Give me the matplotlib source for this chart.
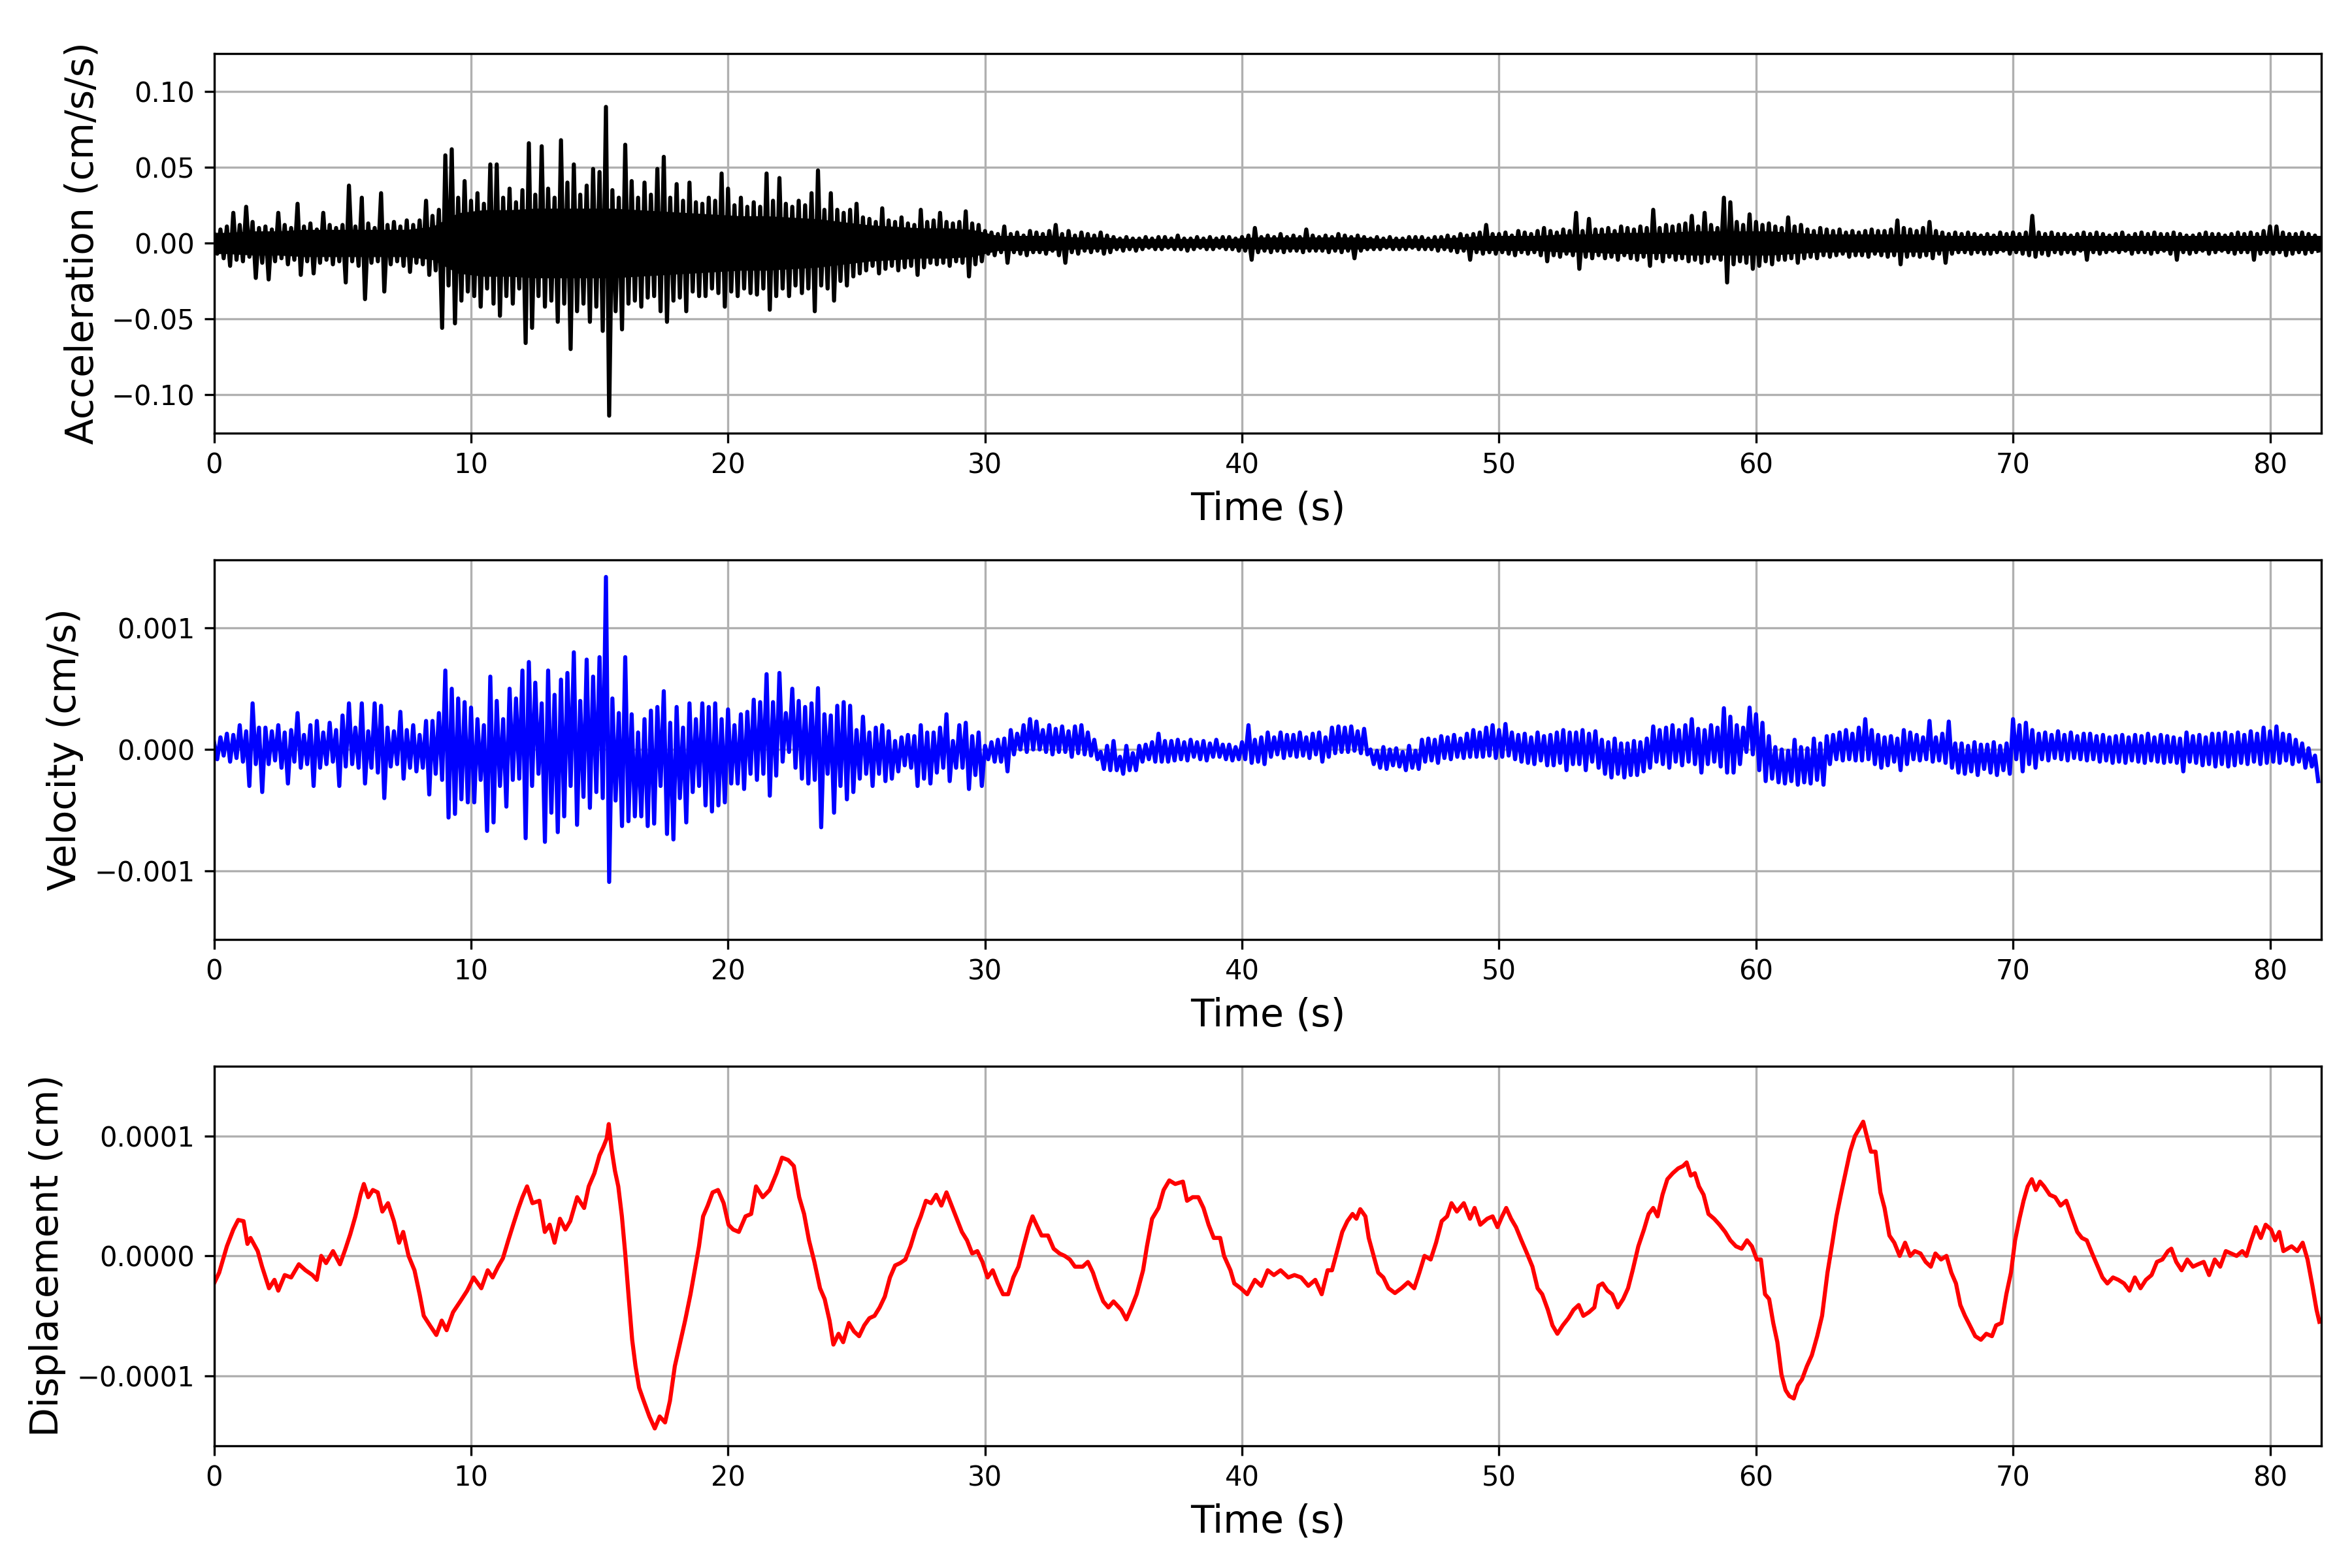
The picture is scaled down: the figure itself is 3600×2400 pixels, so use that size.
import numpy as np
import matplotlib
matplotlib.use("Agg")
import matplotlib.pyplot as plt

# ---------------- data ----------------
DT = 0.25          # spacing of the extremum pairs (s)
T_END = 82.0       # record length (s)

# acceleration: local maxima / minima per 0.25 s step, in 1e-3 cm/s/s
acc_hi_e3 = [
    6, 9, 11, 20,  12, 24, 14, 10,  11, 9, 20, 12,  10, 26, 11, 13,
    9, 20, 12, 10,  12, 38, 11, 30,  13, 10, 33, 12,  14, 11, 15, 12,
    15, 28, 18, 22,  58, 62, 30, 41,  28, 33, 26, 52,  52, 30, 36, 27,
    35, 66, 32, 64,  36, 30, 68, 40,  52, 32, 38, 49,  47, 90, 35, 30,
    65, 41, 30, 40,  32, 49, 57, 30,  39, 28, 40, 27,  26, 30, 28, 46,
    36, 25, 30, 24,  27, 24, 46, 28,  43, 26, 24, 28,  25, 33, 48, 22,
    33, 22, 20, 22,  26, 17, 16, 14,  23, 15, 14, 17,  13, 12, 22, 14,
    15, 20, 14, 13,  14, 21, 13, 12,  8, 7, 6, 11,  6, 7, 5, 8,
    7, 6, 8, 12,  6, 8, 5, 7,  6, 5, 7, 5,  4, 3, 4, 3,
    3, 4, 3, 4,  4, 3, 5, 3,  3, 4, 3, 4,  3, 4, 4, 3,
    4, 5, 10, 4,  5, 4, 6, 4,  5, 4, 9, 5,  4, 5, 4, 6,
    5, 4, 5, 4,  3, 4, 3, 4,  3, 3, 4, 4,  4, 3, 4, 4,
    5, 4, 6, 5,  6, 7, 12, 6,  6, 7, 5, 8,  7, 6, 8, 10,
    8, 7, 9, 8,  20, 8, 16, 9,  9, 10, 8, 11,  10, 9, 11, 10,
    22, 10, 12, 11,  12, 13, 18, 11,  20, 12, 10, 30,  27, 14, 12, 19,
    14, 12, 13, 11,  10, 17, 11, 12,  9, 8, 10, 9,  8, 9, 7, 8,
    7, 8, 9, 8,  8, 9, 15, 10,  9, 8, 10, 14,  8, 7, 6, 7,
    6, 7, 6, 5,  6, 5, 7, 6,  7, 6, 7, 18,  7, 6, 7, 6,
    6, 5, 6, 7,  6, 7, 6, 5,  6, 7, 5, 6,  7, 6, 7, 6,
    6, 7, 6, 5,  5, 6, 7, 6,  6, 5, 6, 7,  6, 7, 6, 8,
    11, 11, 7, 6,  6, 7, 6, 5,
]
acc_lo_e3 = [
    -7, -10, -15, -11,  -12, -9, -23, -13,  -24, -12, -10, -14,  -11, -21, -12, -20,
    -13, -11, -14, -12,  -26, -12, -15, -37,  -13, -12, -32, -14,  -12, -15, -19, -13,
    -14, -21, -18, -56,  -28, -53, -38, -32,  -35, -42, -30, -40,  -48, -35, -40, -30,
    -66, -56, -35, -42,  -38, -52, -40, -70,  -45, -40, -52, -42,  -58, -114, -45, -57,
    -40, -38, -42, -36,  -35, -45, -52, -38,  -36, -45, -32, -35,  -35, -30, -33, -42,
    -32, -35, -30, -33,  -34, -30, -44, -35,  -30, -35, -28, -33,  -30, -45, -28, -30,
    -38, -25, -28, -22,  -20, -18, -15, -20,  -17, -15, -18, -16,  -15, -21, -16, -13,
    -14, -13, -15, -12,  -13, -22, -14, -12,  -7, -8, -6, -13,  -6, -7, -8, -6,
    -6, -7, -5, -8,  -13, -6, -7, -5,  -6, -5, -7, -6,  -4, -5, -4, -5,
    -4, -3, -4, -4,  -3, -4, -4, -5,  -4, -3, -4, -4,  -3, -4, -4, -5,
    -5, -11, -6, -5,  -6, -5, -6, -5,  -5, -6, -5, -5,  -5, -6, -5, -6,
    -5, -10, -5, -4,  -4, -4, -3, -4,  -4, -4, -3, -4,  -4, -4, -5, -4,
    -5, -6, -5, -11,  -6, -7, -6, -7,  -6, -7, -8, -6,  -7, -6, -8, -12,
    -8, -9, -7, -8,  -17, -9, -10, -8,  -10, -9, -11, -8,  -10, -11, -9, -15,
    -10, -12, -9, -11,  -10, -12, -11, -13,  -12, -10, -11, -26,  -14, -12, -13, -17,
    -15, -12, -14, -11,  -11, -10, -13, -10,  -9, -10, -8, -9,  -8, -7, -9, -8,
    -8, -9, -7, -8,  -9, -8, -14, -9,  -8, -9, -8, -10,  -7, -13, -7, -6,
    -6, -7, -6, -7,  -7, -6, -5, -7,  -6, -7, -8, -9,  -7, -8, -6, -7,
    -6, -7, -5, -11,  -6, -7, -6, -5,  -6, -5, -7, -6,  -6, -7, -6, -5,
    -7, -11, -6, -7,  -6, -5, -7, -6,  -5, -6, -7, -6,  -6, -11, -7, -6,
    -7, -6, -8, -7,  -6, -7, -6, -5,
]
# solid core of the acceleration trace: half-width per second, in 1e-3 cm/s/s
acc_core_e3 = [
    7, 8, 8, 9, 9, 9, 9, 9, 11, 20,
    22, 22, 23, 23, 23, 23, 22, 21, 20, 19,
    18, 18, 17, 16, 14, 12, 11, 10, 10, 9,
    5, 5, 5, 4, 4, 3, 3, 3, 3, 3,
    4, 4, 4, 4, 4, 3, 3, 3, 4, 5,
    5, 5, 6, 6, 7, 7, 7, 8, 8, 8,
    8, 7, 6, 6, 6, 6, 6, 5, 5, 5,
    5, 5, 5, 5, 5, 5, 5, 5, 5, 5,
    5, 5,
]

# velocity: local maxima / minima per 0.25 s step, in 1e-4 cm/s
vel_hi_e4 = [
    0.6, 1.0, 1.3, 1.2,  2.0, 1.5, 3.8, 1.8,  1.8, 1.5, 2.0, 1.4,  1.6, 3.0, 1.2, 2.0,
    2.35, 1.4, 2.2, 1.6,  2.8, 3.8, 1.8, 3.8,  1.5, 3.8, 3.6, 1.8,  1.5, 3.1, 1.6, 2.0,
    1.2, 2.35, 2.35, 3.0,  6.5, 5.0, 4.2, 3.9,  3.45, 2.5, 2.0, 6.0,  4.0, 2.5, 5.0, 4.2,
    6.5, 7.2, 5.5, 3.8,  6.5, 4.5, 5.75, 6.3,  8.0, 4.0, 7.4, 6.0,  7.6, 14.2, 4.2, 3.0,
    7.6, 2.9, 1.4, 2.5,  3.2, 3.5, 4.8, 2.2,  3.5, 1.8, 3.8, 2.5,  3.8, 3.5, 3.8, 2.5,
    3.3, 2.0, 2.9, 3.1,  4.1, 3.9, 6.2, 3.9,  6.3, 3.0, 5.0, 4.0,  3.5, 3.8, 5.05, 2.9,
    2.8, 3.6, 3.9, 3.6,  1.6, 2.7, 1.4, 1.8,  2.0, 1.5, 0.7, 1.0,  1.2, 1.1, 2.0, 1.4,
    1.4, 1.8, 2.9, 0.7,  2.0, 2.2, 1.1, 1.4,  0.3, 0.6, 0.8, 0.9,  1.6, 1.3, 2.0, 2.5,
    2.3, 1.6, 2.0, 1.7,  1.9, 1.5, 1.9, 2.0,  1.4, 0.8, -0.2, 0.3,  0.7, -0.6, 0.3, -0.3,
    0.3, 0.4, 0.6, 1.3,  0.7, 0.7, 0.8, 0.6,  0.8, 0.6, 0.7, 0.5,  0.8, 0.4, 0.4, 0.2,
    0.6, 2.0, 0.8, 1.0,  1.4, 1.0, 1.4, 1.2,  1.2, 1.4, 1.0, 1.3,  1.4, 1.0, 1.8, 1.9,
    1.8, 1.9, 1.5, 1.7,  0.0, -0.1, 0.2, 0.0,  0.1, -0.2, 0.3, -0.1,  0.8, 0.9, 0.8, 1.1,
    1.0, 1.2, 0.9, 1.3,  1.6, 1.4, 1.8, 2.0,  1.6, 2.1, 1.4, 1.2,  1.3, 1.0, 1.4, 1.1,
    1.2, 1.4, 1.6, 1.4,  1.4, 1.6, 1.3, 1.5,  0.8, 0.6, 0.9, 0.5,  0.5, 0.7, 0.6, 0.9,
    1.9, 1.6, 1.8, 2.0,  1.6, 2.0, 2.5, 1.7,  1.6, 2.0, 1.8, 3.4,  2.7, 2.0, 1.8, 3.45,
    2.9, 2.2, 1.1, 0.2,  0.0, -0.1, 0.8, 0.2,  0.1, 0.9, 0.5, 1.1,  1.2, 1.4, 1.6, 1.3,
    1.8, 2.5, 1.6, 1.2,  1.0, 1.1, 0.9, 1.6,  1.4, 1.2, 1.0, 2.35,  1.0, 1.3, 2.3, 0.5,
    0.5, 0.3, 0.6, 0.4,  0.4, 0.6, 0.3, 0.5,  2.5, 2.0, 2.2, 1.6,  1.3, 1.4, 1.2, 1.5,
    1.2, 1.4, 1.1, 1.3,  1.3, 1.1, 1.2, 1.0,  1.1, 1.2, 1.0, 1.2,  1.1, 1.3, 1.0, 1.2,
    1.1, 1.0, 0.9, 1.4,  1.1, 1.2, 1.0, 1.3,  1.3, 1.4, 1.2, 1.4,  1.2, 1.5, 1.3, 1.8,
    1.5, 1.9, 1.3, 1.2,  0.8, 0.5, 0.1, -0.5,
]
vel_lo_e4 = [
    -0.8, -0.5, -1.0, -0.7,  -1.0, -3.0, -1.2, -3.5,  -1.2, -0.9, -1.5, -2.8,  -1.0, -1.5, -1.2, -3.0,
    -1.5, -1.2, -1.0, -3.0,  -1.4, -1.2, -1.5, -2.8,  -1.5, -1.9, -4.0, -1.4,  -1.2, -2.4, -1.5, -1.8,
    -1.5, -3.7, -2.0, -2.5,  -5.6, -5.3, -4.1, -4.35,  -4.35, -2.5, -6.7, -6.0,  -3.0, -4.7, -2.5, -2.4,
    -7.3, -3.0, -2.0, -7.6,  -5.2, -6.8, -5.5, -3.0,  -6.2, -3.9, -4.8, -3.5,  -4.0, -10.9, -4.2, -6.3,
    -5.9, -5.5, -5.5, -6.3,  -6.1, -3.0, -6.95, -7.4,  -4.0, -6.0, -3.5, -3.0,  -4.6, -5.1, -4.6, -4.35,
    -2.8, -2.8, -3.25, -2.0,  -2.5, -2.0, -3.8, -2.15,  -1.0, -0.2, -1.5, -2.4,  -2.8, -2.5, -6.4, -2.0,
    -5.2, -3.0, -4.1, -3.5,  -2.4, -2.0, -3.0, -2.0,  -2.6, -2.4, -1.8, -1.3,  -1.5, -3.0, -2.4, -2.8,
    -1.9, -1.5, -2.6, -1.5,  -1.5, -3.25, -2.1, -3.0,  -0.8, -1.0, -1.0, -1.8,  -0.4, 0.0, -0.2, 0.0,
    0.0, -0.2, -0.4, -0.2,  -0.2, -0.6, -0.3, -0.4,  -0.5, -0.8, -1.6, -1.7,  -1.7, -2.0, -1.7, -1.7,
    -1.0, -0.8, -1.0, -1.0,  -1.0, -0.9, -0.8, -0.9,  -0.6, -0.8, -0.9, -0.6,  -0.6, -0.8, -0.9, -0.8,
    -0.8, -1.1, -1.0, -1.2,  -0.6, -0.4, -0.7, -0.5,  -0.6, -0.5, -0.7, -0.4,  -1.0, -0.6, -0.3, -0.2,
    -0.2, -0.1, -0.3, -0.4,  -1.2, -1.5, -1.6, -1.3,  -1.4, -1.7, -1.5, -1.6,  -1.0, -0.9, -1.1, -0.7,
    -0.8, -0.6, -0.7, -0.6,  -0.6, -0.6, -0.5, -0.7,  -0.6, -0.5, -0.8, -1.0,  -1.1, -1.2, -0.9, -1.3,
    -1.3, -1.1, -1.7, -1.2,  -1.2, -1.7, -1.0, -1.5,  -2.0, -2.3, -2.0, -2.3,  -2.1, -2.1, -1.8, -1.5,
    -1.0, -1.2, -1.5, -1.0,  -1.3, -1.0, -1.2, -1.9,  -1.2, -1.0, -1.4, -1.9,  -1.9, -1.2, -0.2, -0.4,
    -1.7, -2.6, -2.4, -2.7,  -2.8, -2.6, -2.9, -2.7,  -2.8, -2.5, -2.9, -1.2,  -0.8, -0.9, -0.8, -0.9,
    -0.9, -0.8, -1.2, -1.5,  -1.3, -1.0, -1.7, -1.2,  -0.8, -0.9, -0.8, -1.0,  -0.9, -1.1, -1.5, -1.9,
    -2.0, -1.8, -2.1, -1.6,  -1.9, -2.1, -1.7, -2.0,  -0.8, -1.8, -1.2, -1.5,  -0.8, -0.9, -0.7, -0.8,
    -0.9, -0.7, -0.8, -0.9,  -0.8, -1.0, -0.9, -1.1,  -1.0, -1.1, -0.9, -1.0,  -1.1, -0.9, -1.0, -1.1,
    -1.0, -1.1, -1.8, -1.0,  -1.1, -1.3, -1.2, -1.4,  -1.2, -1.4, -1.3, -1.1,  -1.2, -1.0, -1.2, -1.1,
    -1.0, -1.1, -0.9, -1.2,  -1.0, -1.5, -1.4, -2.6,
]

# displacement: points along the trace, time (s) and value in 1e-4 cm
disp_t = [
    0.0, 0.2, 0.5, 0.75, 0.94, 1.15, 1.3, 1.42, 1.7, 1.87, 2.14, 2.35, 2.5, 2.75, 3.0, 3.3,
    3.56, 3.83, 4.0, 4.17, 4.36, 4.63, 4.9, 5.1, 5.3, 5.5, 5.7, 5.83, 6.0, 6.18, 6.37, 6.55,
    6.77, 7.0, 7.2, 7.36, 7.57, 7.8, 8.0, 8.16, 8.4, 8.65, 8.86, 9.05, 9.3, 9.58, 9.85, 10.1,
    10.4, 10.65, 10.84, 11.05, 11.24, 11.45, 11.64, 11.85, 12.0, 12.18, 12.39, 12.66, 12.87, 13.06, 13.25, 13.46,
    13.67, 13.86, 14.13, 14.4, 14.58, 14.8, 15.0, 15.15, 15.28, 15.36, 15.47, 15.6, 15.73, 15.87, 16.0, 16.14,
    16.27, 16.4, 16.54, 16.72, 16.94, 17.15, 17.34, 17.55, 17.74, 17.93, 18.14, 18.33, 18.54, 18.73, 18.87, 19.03,
    19.21, 19.4, 19.61, 19.83, 20.02, 20.2, 20.42, 20.68, 20.9, 21.09, 21.35, 21.62, 21.89, 22.1, 22.34, 22.56,
    22.77, 22.96, 23.15, 23.36, 23.58, 23.76, 23.95, 24.1, 24.3, 24.48, 24.7, 24.9, 25.1, 25.3, 25.5, 25.7,
    25.9, 26.1, 26.3, 26.5, 26.7, 26.9, 27.1, 27.3, 27.5, 27.7, 27.9, 28.1, 28.3, 28.5, 28.7, 28.9,
    29.1, 29.3, 29.5, 29.7, 29.9, 30.1, 30.3, 30.5, 30.7, 30.9, 31.1, 31.3, 31.5, 31.7, 31.85, 32.0,
    32.2, 32.45, 32.67, 32.9, 33.1, 33.3, 33.5, 33.8, 34.0, 34.2, 34.4, 34.6, 34.8, 35.0, 35.3, 35.5,
    35.7, 35.9, 36.15, 36.3, 36.5, 36.75, 36.95, 37.17, 37.4, 37.7, 37.86, 38.08, 38.3, 38.5, 38.7, 38.9,
    39.15, 39.3, 39.55, 39.7, 39.95, 40.2, 40.5, 40.75, 41.0, 41.24, 41.5, 41.8, 42.04, 42.3, 42.58, 42.85,
    43.1, 43.33, 43.5, 43.7, 43.9, 44.1, 44.3, 44.45, 44.6, 44.8, 44.93, 45.12, 45.3, 45.5, 45.7, 45.95,
    46.2, 46.46, 46.7, 46.9, 47.1, 47.34, 47.55, 47.77, 47.98, 48.15, 48.36, 48.63, 48.87, 49.05, 49.27, 49.54,
    49.75, 49.94, 50.12, 50.28, 50.47, 50.66, 50.87, 51.09, 51.3, 51.5, 51.68, 51.9, 52.08, 52.27, 52.48, 52.7,
    52.9, 53.1, 53.28, 53.5, 53.71, 53.87, 54.03, 54.22, 54.4, 54.62, 54.83, 55.02, 55.2, 55.42, 55.64, 55.82,
    56.0, 56.17, 56.36, 56.55, 56.76, 56.97, 57.16, 57.3, 57.46, 57.62, 57.78, 57.96, 58.15, 58.37, 58.58, 58.8,
    59.0, 59.22, 59.44, 59.65, 59.84, 60.03, 60.19, 60.35, 60.51, 60.67, 60.83, 60.99, 61.15, 61.3, 61.47, 61.63,
    61.79, 61.98, 62.17, 62.38, 62.57, 62.78, 62.97, 63.13, 63.32, 63.5, 63.66, 63.85, 64.04, 64.17, 64.31, 64.47,
    64.65, 64.84, 65.0, 65.19, 65.38, 65.59, 65.8, 66.0, 66.18, 66.4, 66.6, 66.8, 66.98, 67.2, 67.41, 67.6,
    67.78, 67.95, 68.13, 68.32, 68.53, 68.75, 68.96, 69.18, 69.34, 69.55, 69.74, 69.92, 70.08, 70.25, 70.41, 70.57,
    70.73, 70.89, 71.05, 71.21, 71.43, 71.64, 71.85, 72.07, 72.28, 72.5, 72.68, 72.87, 73.08, 73.3, 73.48, 73.67,
    73.89, 74.1, 74.32, 74.53, 74.74, 74.96, 75.17, 75.39, 75.6, 75.81, 76.03, 76.16, 76.35, 76.56, 76.78, 77.0,
    77.2, 77.42, 77.63, 77.85, 78.06, 78.28, 78.49, 78.7, 78.92, 79.08, 79.24, 79.45, 79.64, 79.83, 80.04, 80.2,
    80.36, 80.52, 80.68, 80.84, 81.06, 81.27, 81.46, 81.65, 81.81, 81.92,
]
disp_e4 = [
    -0.23, -0.14, 0.08, 0.22, 0.30, 0.29, 0.10, 0.15, 0.04, -0.09, -0.27, -0.20, -0.29, -0.16, -0.18, -0.07,
    -0.12, -0.16, -0.20, 0.0, -0.06, 0.04, -0.07, 0.05, 0.18, 0.33, 0.51, 0.60, 0.49, 0.55, 0.53, 0.37,
    0.44, 0.29, 0.11, 0.20, 0.0, -0.12, -0.32, -0.50, -0.58, -0.66, -0.54, -0.62, -0.47, -0.38, -0.29, -0.18,
    -0.27, -0.12, -0.18, -0.09, -0.02, 0.13, 0.26, 0.40, 0.49, 0.58, 0.44, 0.46, 0.20, 0.26, 0.11, 0.31,
    0.22, 0.29, 0.49, 0.40, 0.58, 0.69, 0.84, 0.91, 0.98, 1.10, 0.89, 0.71, 0.58, 0.33, 0.02, -0.36,
    -0.70, -0.92, -1.10, -1.21, -1.34, -1.44, -1.34, -1.39, -1.21, -0.92, -0.72, -0.54, -0.32, -0.09, 0.08, 0.33,
    0.42, 0.53, 0.55, 0.44, 0.26, 0.22, 0.20, 0.33, 0.35, 0.58, 0.49, 0.55, 0.69, 0.82, 0.80, 0.75,
    0.49, 0.35, 0.13, -0.05, -0.27, -0.36, -0.54, -0.74, -0.65, -0.72, -0.56, -0.63, -0.67, -0.58, -0.52, -0.50,
    -0.43, -0.34, -0.18, -0.08, -0.06, -0.03, 0.08, 0.22, 0.33, 0.46, 0.44, 0.51, 0.42, 0.53, 0.42, 0.31,
    0.20, 0.13, 0.02, 0.04, -0.05, -0.18, -0.12, -0.23, -0.32, -0.32, -0.18, -0.09, 0.08, 0.24, 0.33, 0.26,
    0.17, 0.17, 0.06, 0.02, 0.0, -0.03, -0.09, -0.09, -0.05, -0.14, -0.27, -0.38, -0.43, -0.38, -0.45, -0.53,
    -0.43, -0.32, -0.12, 0.08, 0.31, 0.40, 0.55, 0.63, 0.60, 0.62, 0.46, 0.49, 0.49, 0.40, 0.26, 0.15,
    0.15, 0.0, -0.12, -0.23, -0.27, -0.32, -0.20, -0.25, -0.12, -0.16, -0.12, -0.18, -0.16, -0.18, -0.25, -0.20,
    -0.32, -0.12, -0.12, 0.04, 0.20, 0.29, 0.35, 0.31, 0.39, 0.33, 0.15, 0.0, -0.14, -0.18, -0.27, -0.31,
    -0.27, -0.22, -0.27, -0.14, 0.0, -0.03, 0.11, 0.29, 0.33, 0.44, 0.37, 0.44, 0.31, 0.40, 0.26, 0.31,
    0.33, 0.24, 0.33, 0.40, 0.31, 0.24, 0.13, 0.02, -0.09, -0.27, -0.32, -0.45, -0.58, -0.65, -0.58, -0.52,
    -0.45, -0.41, -0.50, -0.47, -0.43, -0.25, -0.23, -0.29, -0.32, -0.43, -0.36, -0.27, -0.12, 0.08, 0.22, 0.35,
    0.40, 0.33, 0.51, 0.64, 0.69, 0.73, 0.75, 0.78, 0.67, 0.69, 0.58, 0.51, 0.35, 0.31, 0.26, 0.20,
    0.13, 0.08, 0.06, 0.13, 0.08, -0.03, -0.03, -0.32, -0.36, -0.56, -0.72, -0.99, -1.12, -1.17, -1.19, -1.08,
    -1.03, -0.92, -0.83, -0.67, -0.50, -0.14, 0.11, 0.33, 0.53, 0.71, 0.87, 1.00, 1.07, 1.12, 1.00, 0.87,
    0.87, 0.53, 0.40, 0.17, 0.11, 0.0, 0.11, 0.0, 0.04, 0.02, -0.05, -0.09, 0.02, -0.03, 0.0, -0.14,
    -0.23, -0.41, -0.50, -0.58, -0.67, -0.70, -0.65, -0.67, -0.58, -0.56, -0.32, -0.14, 0.13, 0.31, 0.46, 0.58,
    0.64, 0.55, 0.62, 0.58, 0.51, 0.49, 0.42, 0.46, 0.33, 0.20, 0.15, 0.13, 0.02, -0.09, -0.18, -0.23,
    -0.18, -0.20, -0.23, -0.29, -0.18, -0.27, -0.20, -0.16, -0.05, -0.03, 0.04, 0.06, -0.05, -0.12, -0.03, -0.09,
    -0.07, -0.05, -0.16, -0.03, -0.09, 0.04, 0.02, 0.0, 0.04, 0.0, 0.11, 0.24, 0.15, 0.26, 0.22, 0.13,
    0.20, 0.04, 0.06, 0.08, 0.04, 0.11, -0.03, -0.25, -0.45, -0.55,
]


def zigzag(hi, lo, scale):
    """Trace through the maxima (at step start) and minima (half a step later)."""
    hi = np.asarray(hi, float) * scale
    lo = np.asarray(lo, float) * scale
    t0 = np.arange(len(hi)) * DT
    t = np.empty(2 * len(hi))
    y = np.empty(2 * len(hi))
    t[0::2], t[1::2] = t0, t0 + DT / 2
    y[0::2], y[1::2] = hi, lo
    return t, y


acc_t, acc = zigzag(acc_hi_e3, acc_lo_e3, 1e-3)
vel_t, vel = zigzag(vel_hi_e4, vel_lo_e4, 1e-4)
dsp_t = np.asarray(disp_t, float)
dsp = np.asarray(disp_e4, float) * 1e-4

core = np.asarray(acc_core_e3, float) * 1e-3
core_t = np.concatenate([[0.0], np.arange(len(core)) + 0.5, [T_END]])
core = np.concatenate([[core[0]], core, [core[-1]]])

panels = [
    (acc_t, acc, "k", "Acceleration (cm/s/s)"),
    (vel_t, vel, "b", "Velocity (cm/s)"),
    (dsp_t, dsp, "r", "Displacement (cm)"),
]

fig, axes = plt.subplots(3, 1, figsize=(12, 8), dpi=300)
fig.subplots_adjust(left=0.091, right=0.987, top=0.966, bottom=0.078, hspace=0.334)

for i, (ax, (t, y, c, lab)) in enumerate(zip(axes, panels)):
    if i == 0:
        ax.fill_between(core_t, -core, core, color="k", linewidth=0, zorder=2)
    ax.plot(t, y, color=c, linewidth=1.5, zorder=2)
    peak = 1.1 * np.max(np.abs(y))
    ax.set_ylim(-peak, peak)
    ax.set_xlim(0, T_END)
    ax.set_xlabel("Time (s)", fontsize=14)
    ax.set_ylabel(lab, fontsize=14)
    ax.grid(True)

fig.savefig("out.png", dpi=300)
